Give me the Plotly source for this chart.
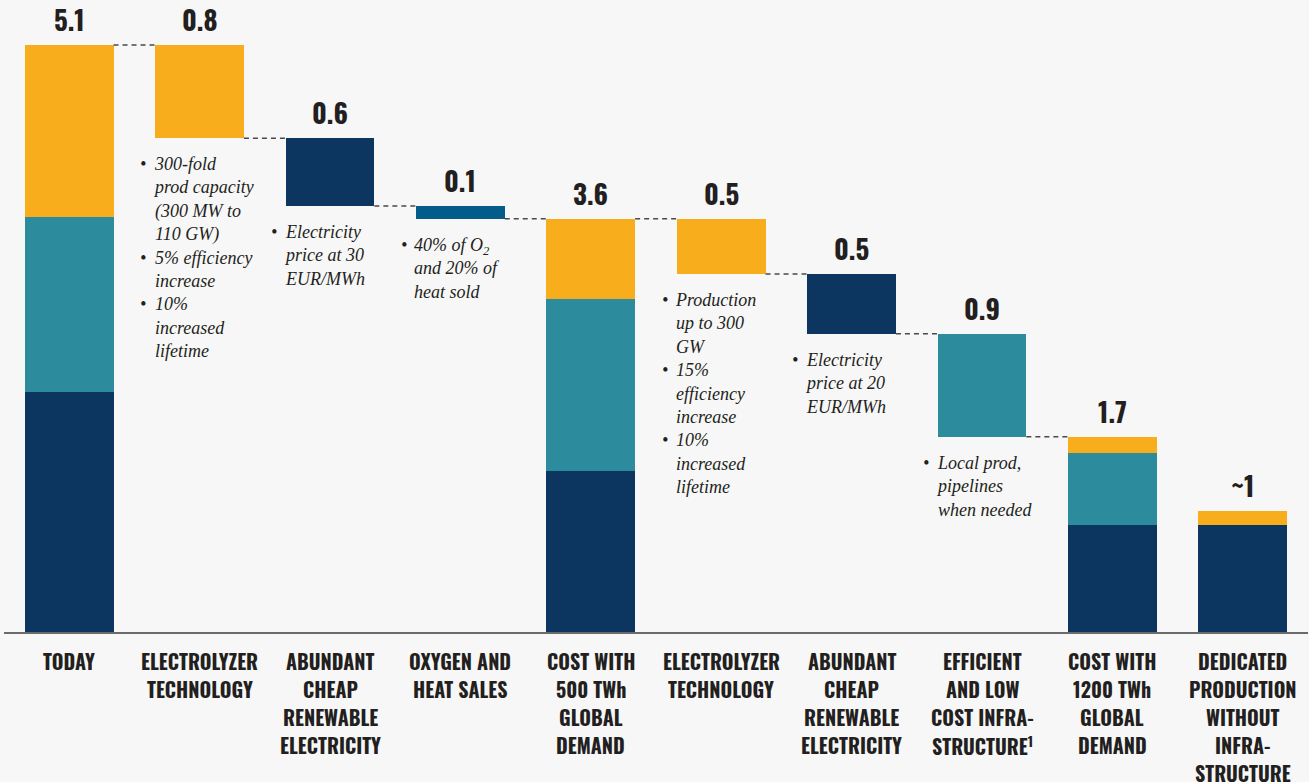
import plotly.graph_objects as go

category_lines = [["TODAY"], ["ELECTROLYZER", "TECHNOLOGY"], ["ABUNDANT", "CHEAP", "RENEWABLE", "ELECTRICITY"],
                  ["OXYGEN AND", "HEAT SALES"], ["COST WITH", "500 TWh", "GLOBAL", "DEMAND"],
                  ["ELECTROLYZER", "TECHNOLOGY"], ["ABUNDANT", "CHEAP", "RENEWABLE", "ELECTRICITY"],
                  ["EFFICIENT", "AND LOW", "COST INFRA-", "STRUCTURE<sup>1</sup>"],
                  ["COST WITH", "1200 TWh", "GLOBAL", "DEMAND"],
                  ["DEDICATED", "PRODUCTION", "WITHOUT", "INFRA-", "STRUCTURE"]]
# kind: 'total' (stacked) or 'step' (reduction)
kinds = ["total", "step", "step", "step", "total", "step", "step", "step", "total", "total"]
# stacked segments for totals (navy, teal, yellow)
navy_seg = [2.085, None, None, None, 1.40, None, None, None, 0.93, 0.93]
teal_seg = [1.52, None, None, None, 1.49, None, None, None, 0.625, 0.0]
yellow_seg = [1.495, None, None, None, 0.70, None, None, None, 0.14, 0.12]
# reductions for steps
step_vals = [None, 0.81, 0.59, 0.11, None, 0.48, 0.52, 0.895, None, None]
step_colors = [None, "#F8AE1C", "#0C355F", "#035C89", None, "#F8AE1C", "#0C355F", "#2C8B9C", None, None]
value_labels = ["5.1", "0.8", "0.6", "0.1", "3.6", "0.5", "0.5", "0.9", "1.7", "~1"]
notes = [None,
         ["300-fold<br>prod capacity<br>(300 MW to<br>110 GW)", "5% efficiency<br>increase", "10%<br>increased<br>lifetime"],
         ["Electricity<br>price at 30<br>EUR/MWh"],
         ["40% of O<sub>2</sub><br>and 20% of<br>heat sold"],
         None,
         ["Production<br>up to 300<br>GW", "15%<br>efficiency<br>increase", "10%<br>increased<br>lifetime"],
         ["Electricity<br>price at 20<br>EUR/MWh"],
         ["Local prod,<br>pipelines<br>when needed"],
         None, None]
connect_next = [True, True, True, True, True, True, True, True, False, False]

NAVY, TEAL, YELLOW = "#0C355F", "#2C8B9C", "#F8AE1C"
BW = 0.68
TXT = "#231F20"
COND = "Oswald"

fig = go.Figure()
x = list(range(len(category_lines)))

# compute tops/bottoms
tops, bottoms = [], []
level = 0
for i, k in enumerate(kinds):
    if k == "total":
        t = navy_seg[i] + teal_seg[i] + yellow_seg[i]
        tops.append(t); bottoms.append(0)
        level = t
    else:
        tops.append(level); bottoms.append(level - step_vals[i])
        level = level - step_vals[i]

# stacked totals
for seg, col, base_fn in [(navy_seg, NAVY, lambda i: 0),
                          (teal_seg, TEAL, lambda i: navy_seg[i]),
                          (yellow_seg, YELLOW, lambda i: navy_seg[i] + teal_seg[i])]:
    xs = [i for i in x if kinds[i] == "total" and seg[i]]
    fig.add_trace(go.Bar(x=xs, y=[seg[i] for i in xs], base=[base_fn(i) for i in xs],
                         marker=dict(color=col, line=dict(width=0)), width=BW, showlegend=False,
                         hoverinfo="skip"))
# steps
xs = [i for i in x if kinds[i] == "step"]
fig.add_trace(go.Bar(x=xs, y=[step_vals[i] for i in xs], base=[bottoms[i] for i in xs],
                     marker=dict(color=[step_colors[i] for i in xs], line=dict(width=0)),
                     width=BW, showlegend=False, hoverinfo="skip"))

# connectors
for i in x:
    if connect_next[i]:
        yv = bottoms[i] if kinds[i] == "step" else tops[i]
        fig.add_shape(type="line", x0=i + BW / 2, x1=i + 1 - BW / 2, y0=yv, y1=yv,
                      line=dict(color="#4a4a4a", width=1.5, dash="5px,4px"))

# value labels
for i in x:
    fig.add_annotation(x=i, y=tops[i], text=value_labels[i], showarrow=False, yanchor="bottom",
                       yshift=4, font=dict(family=COND, size=27, color=TXT, weight="bold"))

# category labels (one annotation per line for the original line spacing)
for i in x:
    for k, line in enumerate(category_lines[i]):
        fig.add_annotation(x=i, y=0, xref="x", yref="paper", text=line, showarrow=False,
                           yanchor="top", yshift=-12 - 28 * k,
                           font=dict(family=COND, size=20, color=TXT, weight="bold"))

# notes
NF = dict(family="Liberation Serif", size=18, color=TXT, style="italic")
for i in x:
    if notes[i]:
        text = "<br>".join(notes[i])
        bullets = "<br>".join("•" + "<br>" * (n.count("<br>")) for n in notes[i])
        fig.add_annotation(x=i - BW / 2, y=bottoms[i], text=text, showarrow=False, xanchor="left",
                           yanchor="top", align="left", xshift=-4, yshift=-14, font=NF)
        fig.add_annotation(x=i - BW / 2, y=bottoms[i], text=bullets, showarrow=False, xanchor="left",
                           yanchor="top", align="left", xshift=-17, yshift=-14, font=NF)

fig.update_layout(
    width=1309, height=782,
    margin=dict(l=4, r=1, t=0, b=150, autoexpand=False),
    paper_bgcolor="#F7F7F7", plot_bgcolor="#F7F7F7",
    barmode="overlay", bargap=0,
    xaxis=dict(range=[-0.5, 9.5], showticklabels=False, showgrid=False, zeroline=False,
               showline=True, linecolor="#6b6b6b", linewidth=2, ticks="", automargin=False),
    yaxis=dict(range=[0, 5.49], visible=False, showgrid=False),
)
fig.write_html("out.html", config={"displayModeBar": False},
               post_script="document.body.style.margin='0';document.body.style.background='#F7F7F7';")
